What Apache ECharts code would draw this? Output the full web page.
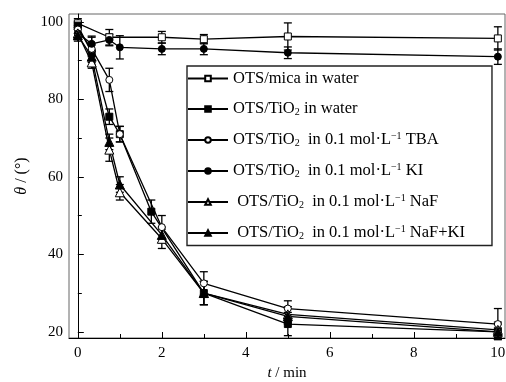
<!DOCTYPE html>
<html>
<head>
<meta charset="utf-8">
<script src="https://cdn.jsdelivr.net/npm/echarts@6/dist/echarts.min.js"></script>
<style>
  html, body { margin: 0; padding: 0; background: #fff; }
  #main { width: 506px; height: 382px; }
</style>
</head>
<body>
<div id="main"></div>
<script>
var names = ['mica', 'water', 'tba', 'ki', 'naf', 'nafki'];

// time (min), contact angle (deg), error bar half-height
var micaT = [0, 0.75, 2, 3, 5, 10];
var micaV = [99.6, 96, 96, 95.5, 96.2, 95.7];
var micaE = [1.2, 2, 1.5, 1.2, 3.5, 3];

var waterT = [0, 0.33, 0.75, 1, 1.75, 3, 5, 10];
var waterV = [99, 92, 75.5, 71, 51, 30, 22, 20];
var waterE = [1, 2, 2, 2, 3, 3, 3, 1];

var tbaT = [0, 0.33, 0.75, 1, 2, 3, 5, 10];
var tbaV = [98, 93, 85, 71, 47, 32.5, 26, 22];
var tbaE = [1, 3, 3, 2, 3, 3, 2, 4];

var kiT = [0, 0.33, 0.75, 1, 2, 3, 5, 10];
var kiV = [97, 94.3, 95.3, 93.4, 93, 93, 92, 91];
var kiE = [1.5, 2, 1.5, 3, 1.5, 1.5, 1.5, 2];

var nafT = [0, 0.33, 0.75, 1, 2, 3, 5, 10];
var nafV = [97, 89.5, 67, 56, 44, 30, 24.5, 20.5];
var nafE = [1.5, 1.5, 3, 2, 2.5, 3, 2, 2];

var nafkiT = [0, 0.33, 0.75, 1, 2, 3, 5, 10];
var nafkiV = [96.5, 91, 69, 58, 45, 30, 24, 20];
var nafkiE = [1.5, 1.5, 2, 2, 2, 3, 2, 2];

var xMajor = [0, 2, 4, 6, 8, 10];
var xMinor = [1, 3, 5, 7, 9];
var yMajor = [20, 40, 60, 80, 100];
var yMinor = [30, 50, 70, 90];

var legendText = {
  mica: '{n|OTS/mica in water}',
  water: '{n|OTS/TiO}{sub|2}{n| in water}',
  tba: '{n|OTS/TiO}{sub|2}{n|  in 0.1 mol·L}{sup|−1}{n| TBA}',
  ki: '{n|OTS/TiO}{sub|2}{n|  in 0.1 mol·L}{sup|−1}{n| KI}',
  naf: '{n| OTS/TiO}{sub|2}{n|  in 0.1 mol·L}{sup|−1}{n| NaF}',
  nafki: '{n| OTS/TiO}{sub|2}{n|  in 0.1 mol·L}{sup|−1}{n| NaF+KI}'
};

var sets = {
  mica: [micaT, micaV, micaE, 'rect', '#fff'],
  water: [waterT, waterV, waterE, 'rect', '#000'],
  tba: [tbaT, tbaV, tbaE, 'circle', '#fff'],
  ki: [kiT, kiV, kiE, 'circle', '#000'],
  naf: [nafT, nafV, nafE, 'triangle', '#fff'],
  nafki: [nafkiT, nafkiV, nafkiE, 'triangle', '#000']
};

var FONT = 'Liberation Serif';

var series = [];
names.forEach(function (k) {
  var s = sets[k];
  var pts = s[0].map(function (t, i) { return [t, s[1][i]]; });
  var bars = s[0].map(function (t, i) { return [t, s[1][i], s[2][i]]; });
  // error bars
  series.push({
    type: 'custom',
    silent: true,
    z: 1,
    data: bars,
    renderItem: function (params, api) {
      var x = api.value(0), y = api.value(1), e = api.value(2);
      var top = api.coord([x, y + e]);
      var bot = api.coord([x, y - e]);
      var hw = 4;
      var st = { stroke: '#000', lineWidth: 1.3 };
      return {
        type: 'group',
        children: [
          { type: 'line', shape: { x1: top[0], y1: top[1], x2: bot[0], y2: bot[1] }, style: st },
          { type: 'line', shape: { x1: top[0] - hw, y1: top[1], x2: top[0] + hw, y2: top[1] }, style: st },
          { type: 'line', shape: { x1: bot[0] - hw, y1: bot[1], x2: bot[0] + hw, y2: bot[1] }, style: st }
        ]
      };
    }
  });
  series.push({
    name: k,
    type: 'line',
    z: 3,
    data: pts,
    symbol: s[3],
    symbolSize: s[3] === 'triangle' ? 9 : 7,
    showAllSymbol: true,
    lineStyle: { color: '#000', width: 1.3 },
    itemStyle: { color: s[4], borderColor: '#000', borderWidth: 1 }
  });
});

var chart = echarts.init(document.getElementById('main'));
chart.setOption({
  animation: false,
  backgroundColor: '#fff',
  grid: {
    left: 69, right: 1, top: 14, bottom: 44,
    outerBoundsMode: 'none',
    show: true, borderColor: '#666', borderWidth: 1
  },
  legend: {
    data: names,
    orient: 'vertical',
    left: 187, top: 66,
    itemWidth: 40, itemHeight: 7, itemGap: 13.5,
    padding: [4, 27, 4, 0],
    borderColor: '#222', borderWidth: 1.4,
    backgroundColor: '#fff',
    formatter: function (n) { return legendText[n]; },
    textStyle: {
      color: '#000',
      rich: {
        n: { fontFamily: FONT, fontSize: 16.5, color: '#000' },
        sub: { fontFamily: FONT, fontSize: 10, color: '#000', padding: [7, 0, 0, 0] },
        sup: { fontFamily: FONT, fontSize: 10, color: '#000', padding: [0, 0, 8, 0] }
      }
    }
  },
  xAxis: [{
    type: 'value', min: -0.21, max: 10.17,
    axisLine: { lineStyle: { color: '#000', width: 1 } },
    axisTick: { inside: true, length: 6, customValues: xMajor, lineStyle: { color: '#000' } },
    axisLabel: { customValues: xMajor, color: '#000', fontFamily: FONT, fontSize: 15, margin: 8 },
    splitLine: { show: false },
    name: '{i|t} / min',
    nameLocation: 'middle',
    nameGap: 27,
    nameTextStyle: {
      rich: {
        i: { fontFamily: FONT, fontSize: 15, fontStyle: 'italic', color: '#000' }
      },
      fontFamily: FONT, fontSize: 15, color: '#000'
    }
  }, {
    type: 'value', min: -0.21, max: 10.17, position: 'bottom',
    axisLine: { show: false },
    axisTick: { inside: true, length: 4, customValues: xMinor, lineStyle: { color: '#000' } },
    axisLabel: { show: false },
    splitLine: { show: false }
  }],
  yAxis: [{
    type: 'value', min: 18.4, max: 102,
    axisLine: { show: true, lineStyle: { color: '#000', width: 1 } },
    axisTick: { show: true, inside: true, length: 6, customValues: yMajor, lineStyle: { color: '#000' } },
    axisLabel: { customValues: yMajor, color: '#000', fontFamily: FONT, fontSize: 15, margin: 6 },
    splitLine: { show: false },
    name: '{i|θ} / (°)',
    nameLocation: 'middle',
    nameGap: 39,
    nameTextStyle: {
      rich: {
        i: { fontFamily: FONT, fontSize: 16, fontStyle: 'italic', color: '#000' }
      },
      fontFamily: FONT, fontSize: 16, color: '#000'
    }
  }, {
    type: 'value', min: 18.4, max: 102, position: 'left',
    axisLine: { show: false },
    axisTick: { show: true, inside: true, length: 4, customValues: yMinor, lineStyle: { color: '#000' } },
    axisLabel: { show: false },
    splitLine: { show: false }
  }],
  series: series
});

window.addEventListener('resize', chart.resize);
</script>
</body>
</html>
